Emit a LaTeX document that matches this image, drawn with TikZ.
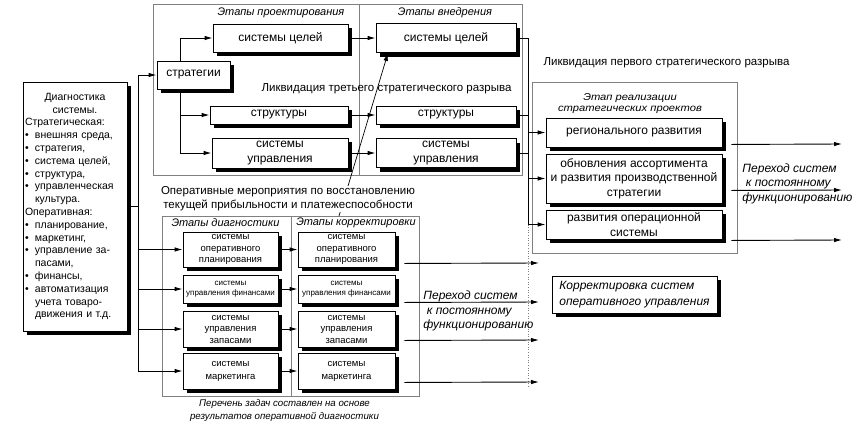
\documentclass[tikz,border=0pt]{standalone}
\usepackage{fontspec}
\setmainfont{Liberation Sans}
\newfontfamily\widefont[FakeStretch=1.12]{Liberation Sans}
\usetikzlibrary{arrows.meta,shadows}
\newcommand\itemdot{\makebox[10pt][l]{•}}

\begin{document}
\begin{tikzpicture}[x=1pt, y=-1pt, line width=0.9pt,
    >={Latex[length=8pt,width=4.5pt]},
    shadowed/.style={draw, fill=white,
      drop shadow={shadow xshift=4pt, shadow yshift=-4pt, fill=black, opacity=1}},
    box/.style={shadowed, inner sep=0pt, align=center,
      font=\fontsize{12}{14.5}\selectfont},
    smallbox/.style={box, font=\fontsize{9.5}{11.5}\selectfont},
    frame/.style={draw=gray, line width=0.7pt, inner sep=0pt},
    stage/.style={inner sep=0pt, font=\itshape\fontsize{11}{12}\selectfont},
    caption/.style={inner sep=0pt, align=center, font=\fontsize{11.5}{14}\selectfont},
    transit/.style={inner sep=0pt, align=left, font=\itshape\fontsize{12}{14.5}\selectfont}]
  \useasboundingbox (0,0) rectangle (860,440);

  % frames of the stages
  \node[frame, minimum width=206pt, minimum height=171pt] (designFrame) at (256,89.5) {};
  \node[frame, minimum width=163pt, minimum height=171pt] (implFrame) at (440.5,89.5) {};
  \node[frame, minimum width=205pt, minimum height=171pt] (projFrame) at (634.5,167.5) {};
  \node[frame, minimum width=129pt, minimum height=180pt] (diagFrame) at (226.5,306) {};
  \node[frame, minimum width=128pt, minimum height=180pt] (corrFrame) at (355,306) {};

  \node[stage] (designTitle) at (281,13) {Этапы проектирования};
  \node[stage] (implTitle) at (445,13) {Этапы внедрения};
  \node[stage, align=center, font=\widefont\itshape\fontsize{10}{11}\selectfont] (projTitle) at (630,103.5) {Этап реализации\\стратегических проектов};
  \node[stage] (diagTitle) at (225.5,223) {Этапы диагностики};
  \node[stage] (corrTitle) at (356,223) {Этапы корректировки};

  % diagnostics of the system
  \node[shadowed, inner sep=2pt, text width=100pt, minimum height=249pt,
        font=\fontsize{10.5}{12.8}\selectfont] (diag) at (75,206.5)
    {\parindent=0pt {\centering Диагностика\\системы.\par}
     Стратегическая:\\
     \itemdot внешняя среда,\\
     \itemdot стратегия,\\
     \itemdot система целей,\\
     \itemdot структура,\\
     \itemdot управленческая\\
     \hspace*{10pt}культура.\\
     Оперативная:\\
     \itemdot планирование,\\
     \itemdot маркетинг,\\
     \itemdot управление за-\\
     \hspace*{10pt}пасами,\\
     \itemdot финансы,\\
     \itemdot автоматизация\\
     \hspace*{10pt}учета товаро-\\
     \hspace*{10pt}движения и т.д.};

  % design and implementation
  \node[box, minimum width=73pt, minimum height=28pt] (strat) at (193.5,75) {стратегии};
  \node[box, minimum width=135pt, minimum height=28pt] (dGoals) at (280.5,38) {системы целей};
  \node[box, minimum width=138pt, minimum height=18pt] (dStruct) at (279,115) {структуры};
  \node[box, minimum width=136pt, minimum height=30pt] (dMgmt) at (280,153) {системы\\управления};
  \node[box, minimum width=140pt, minimum height=29pt] (iGoals) at (446,38) {системы целей};
  \node[box, minimum width=140pt, minimum height=18pt] (iStruct) at (446,115) {структуры};
  \node[box, minimum width=140pt, minimum height=29pt] (iMgmt) at (446,153) {системы\\управления};

  % strategic projects
  \node[box, minimum width=176pt, minimum height=29pt] (pReg) at (634,132.5) {регионального развития};
  \node[box, minimum width=176pt, minimum height=49pt] (pAssort) at (634,178.5) {обновления ассортимента\\и развития производственной\\стратегии};
  \node[box, minimum width=176pt, minimum height=29pt] (pOper) at (634,224.5) {развития операционной\\системы};

  % diagnostics and correction
  \node[smallbox, minimum width=95pt, minimum height=35pt] (gPlan) at (230.5,249.5) {системы\\оперативного\\планирования};
  \node[smallbox, minimum width=95pt, minimum height=28pt, font=\fontsize{8}{9.5}\selectfont] (gFin) at (230.5,289) {системы\\управления финансами};
  \node[smallbox, minimum width=95pt, minimum height=36pt] (gStock) at (230.5,329) {системы\\управления\\запасами};
  \node[smallbox, minimum width=95pt, minimum height=36pt] (gMark) at (230.5,371) {системы\\[1.5pt]маркетинга};
  \node[smallbox, minimum width=97pt, minimum height=35pt] (cPlan) at (346.5,249.5) {системы\\оперативного\\планирования};
  \node[smallbox, minimum width=97pt, minimum height=28pt, font=\fontsize{8}{9.5}\selectfont] (cFin) at (346.5,289) {системы\\управления финансами};
  \node[smallbox, minimum width=97pt, minimum height=36pt] (cStock) at (346.5,329) {системы\\управления\\запасами};
  \node[smallbox, minimum width=97pt, minimum height=36pt] (cMark) at (346.5,371) {системы\\[1.5pt]маркетинга};

  \node[box, minimum width=165pt, minimum height=37pt, align=left,
        font=\itshape\fontsize{12}{16}\selectfont] (fix) at (634.5,294.5) {Корректировка систем\\оперативного управления};

  % buses
  \coordinate (bus) at (138,0);
  \coordinate (tree) at (180,0);
  \coordinate (pbus) at (528,0);
  \coordinate (dotEnd) at (528,386);

  \draw (diag) -- (diag -| bus);
  \draw (bus |- strat) -- (bus |- gMark);
  \foreach \n in {strat,gPlan,gFin,gStock,gMark}
    \draw[->] (bus |- \n) -- (\n);

  \draw[->] (tree |- strat.north) |- (dGoals);
  \draw[->] (tree |- strat.south) |- (dStruct);
  \draw[->] (tree |- strat.south) |- (dMgmt);

  \foreach \a/\b in {dGoals/iGoals,dStruct/iStruct,dMgmt/iMgmt,gPlan/cPlan,gFin/cFin,gStock/cStock,gMark/cMark}
    \draw[->] (\a) -- (\b);

  \draw (iGoals) -| (pbus |- pOper);
  \draw (iStruct) -- (iStruct -| pbus);
  \draw (iMgmt) -- (iMgmt -| pbus);
  \foreach \n in {pReg,pAssort,pOper}
    \draw[->] (pbus |- \n) -- (\n);
  \draw[gray, dotted, line width=0.6pt] (pbus |- pOper) -- (dotEnd);

  % transition to permanent operation
  \coordinate (regOut) at (842,144);
  \coordinate (assortOut) at (842,190);
  \coordinate (operOut) at (842,240);
  \coordinate (planOut) at (539,263);
  \coordinate (finOut) at (539,302);
  \coordinate (stockOut) at (539,340);
  \coordinate (markOut) at (539,382);
  \draw[->] ([xshift=9pt,yshift=3pt]pReg.south east) -- (regOut);
  \draw[->] ([xshift=9pt,yshift=13pt]pAssort.south east) -- (assortOut);
  \draw[->] ([xshift=9pt,yshift=-1pt]pOper.south east) -- (operOut);
  \draw[->] ([xshift=9pt,yshift=4pt]cPlan.south east) -- (planOut);
  \draw[->] ([xshift=9pt,yshift=1pt]cFin.south east) -- (finOut);
  \draw[->] ([xshift=9pt,yshift=7pt]cStock.south east) -- (stockOut);
  \draw[->] ([xshift=9pt,yshift=7pt]cMark.south east) -- (markOut);

  % third gap
  \coordinate (gapStart) at (339,216);
  \draw[->, line width=0.7pt] (gapStart) -- ([xshift=-58pt]iGoals.south);

  \node[caption] (gap3) at (386.5,89) {Ликвидация третьего стратегического разрыва};
  \node[caption] (gap1) at (666.5,63) {Ликвидация первого стратегического разрыва};
  \node[caption, fill=white, inner sep=1pt] (opText) at (288,199) {Оперативные мероприятия по восстановлению\\текущей прибыльности и платежеспособности};

  \node[transit, anchor=west] (transitC) at (423,311) {Переход систем\\\ к постоянному\\функционированию};
  \node[transit, anchor=west] (transitP) at (742,183.5) {Переход систем\\\ к постоянному\\функционированию};

  \node[inner sep=0pt, align=center, font=\itshape\fontsize{9.7}{13.5}\selectfont] (note) at (284.5,410.5) {Перечень задач составлен на основе\\результатов оперативной диагностики};
\end{tikzpicture}
\end{document}
